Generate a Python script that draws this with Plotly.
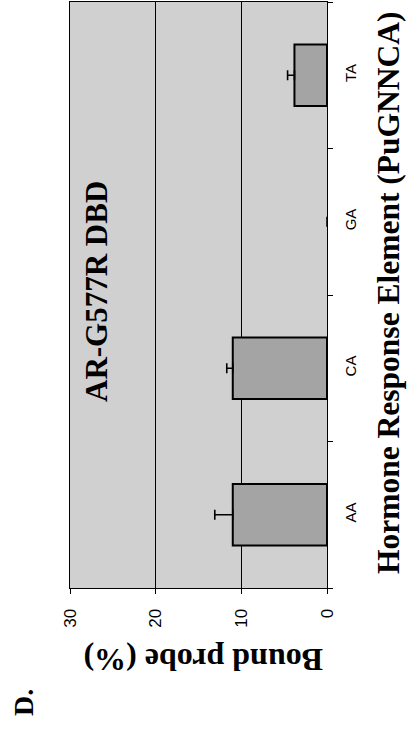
import plotly.graph_objects as go

# Hormone response elements (PuGNNCA) tested for AR-G577R DBD binding
elements = ["AA", "CA", "GA", "TA"]
bound_pct = [11.0, 11.0, 0.0, 3.8]
bound_err = [2.1, 0.7, None, 0.8]
value_ticks = [0, 10, 20, 30]

serif = "Liberation Serif, Times New Roman, serif"
sans = "Liberation Sans, Arial, sans-serif"

# outline only bars that have height
outline_w = [2 if v > 0 else 0 for v in bound_pct]

fig = go.Figure(
    go.Bar(
        x=bound_pct,
        y=elements,
        orientation="h",
        width=0.42,
        marker=dict(color="#a4a4a4", line=dict(color="black", width=outline_w)),
        error_x=dict(
            type="data",
            symmetric=False,
            array=bound_err,
            arrayminus=[0, 0, 0, 0],
            color="black",
            thickness=1.6,
            width=5,
        ),
    )
)

fig.update_layout(
    width=409,
    height=730,
    margin=dict(l=70, r=82, t=2, b=142),
    paper_bgcolor="white",
    plot_bgcolor="#d0d0d0",
    showlegend=False,
    xaxis=dict(
        range=[30, 0],
        tickvals=value_ticks,
        ticktext=[str(v) for v in value_ticks],
        tickangle=-90,
        tickfont=dict(family=sans, size=17, color="black"),
        ticks="outside",
        ticklen=5,
        tickcolor="black",
        showgrid=True,
        gridcolor="black",
        gridwidth=1,
        zeroline=False,
        showline=True,
        linecolor="black",
        linewidth=1,
        mirror=True,
        ticklabelstandoff=8,
    ),
    yaxis=dict(
        side="right",
        categoryorder="array",
        categoryarray=elements,
        tickangle=-90,
        tickfont=dict(family=sans, size=15, color="black"),
        ticks="outside",
        tickson="boundaries",
        ticklen=5,
        tickcolor="black",
        showgrid=False,
        showline=True,
        linecolor="black",
        linewidth=1,
        mirror=True,
        ticklabelstandoff=10,
    ),
)

# text positions given in page pixels (x, y) and converted to paper coords
plot_w = 409 - 70 - 82
plot_h = 730 - 2 - 142
labels = [
    ("<b>Hormone Response Element (PuGNNCA)</b>", 389, 293, -90, 31.5),
    ("<b>Bound probe (%)</b>", 204, 660, 180, 32),
    ("<b>AR-G577R DBD</b>", 96, 292, -90, 31),
    ("<b>D.</b>", 23, 703, -90, 28),
]
for text, px, py, angle, size in labels:
    fig.add_annotation(
        text=text,
        x=(px - 70) / plot_w,
        y=1 - (py - 2) / plot_h,
        xref="paper",
        yref="paper",
        xanchor="center",
        yanchor="middle",
        showarrow=False,
        textangle=angle,
        font=dict(family=serif, size=size, color="black"),
    )

fig.write_html("out.html")
